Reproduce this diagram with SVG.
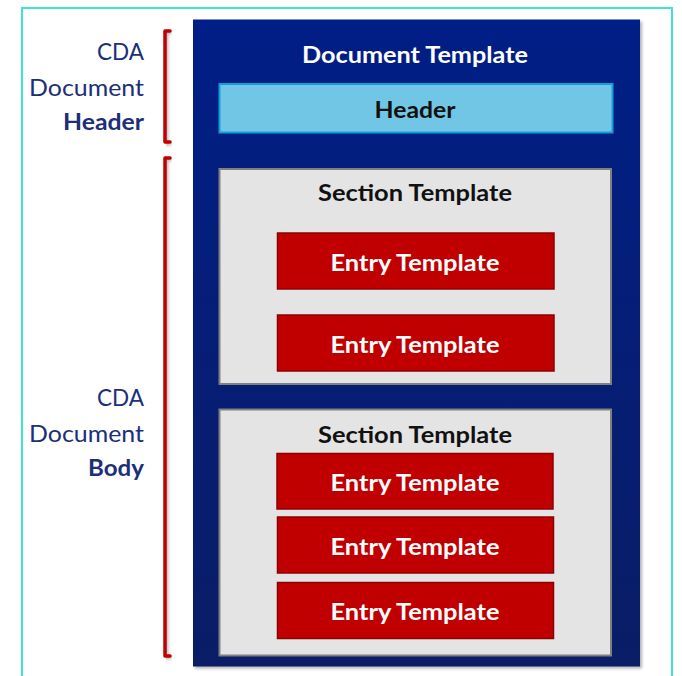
<svg xmlns="http://www.w3.org/2000/svg" width="682" height="676" viewBox="0 0 682 676">
  <defs>
    <linearGradient id="blueGrad" x1="0" y1="0" x2="0" y2="1">
      <stop offset="0" stop-color="#001E86"/>
      <stop offset="1" stop-color="#0A1D66"/>
    </linearGradient>
    <filter id="blur" x="-10%" y="-10%" width="120%" height="120%">
      <feGaussianBlur stdDeviation="1.5"/>
    </filter>
    <style>
      text { font-family: Lato, "Open Sans", "Liberation Sans", sans-serif; }
      .label { font-size: 23px; fill: #1B2F7A; text-anchor: end; }
      .label-b { font-weight: bold; }
      .title { font-size: 22px; font-weight: bold; fill: #FFFFFF; text-anchor: middle; }
      .dark { font-size: 22px; font-weight: bold; fill: #111111; text-anchor: middle; }
      .entry-rect { fill: #C00000; stroke: #8E0000; stroke-width: 1.5; }
      .entry-text { font-size: 22px; font-weight: bold; fill: #FFFFFF; text-anchor: middle; }
      .section-rect { fill: #E4E4E4; stroke: #808080; stroke-width: 2; }
      .bracket { fill: none; stroke: #C00000; stroke-width: 3.5; stroke-linejoin: round; stroke-linecap: round; }
      .bracket-shadow { fill: none; stroke: #000000; stroke-opacity: 0.3; stroke-width: 3.5; }
    </style>
  </defs>

  <rect x="0" y="0" width="682" height="676" fill="#FFFFFF"/>
  <rect id="frame" x="22" y="8" width="650" height="690" fill="none" stroke="#3EE4D3" stroke-width="2"/>

  <g id="labels">
    <text class="label" x="144" y="60" textLength="47" lengthAdjust="spacingAndGlyphs">CDA</text>
    <text class="label" x="144" y="96" textLength="115" lengthAdjust="spacingAndGlyphs">Document</text>
    <text class="label label-b" x="144" y="130" textLength="81" lengthAdjust="spacingAndGlyphs">Header</text>
    <text class="label" x="144" y="406" textLength="47" lengthAdjust="spacingAndGlyphs">CDA</text>
    <text class="label" x="144" y="442" textLength="115" lengthAdjust="spacingAndGlyphs">Document</text>
    <text class="label label-b" x="144" y="476" textLength="56" lengthAdjust="spacingAndGlyphs">Body</text>
  </g>

  <g id="brackets">
    <path class="bracket-shadow" d="M171.5,32.5 L166.5,32.5 L166.5,143.5 L171.5,143.5" filter="url(#blur)"/>
    <path class="bracket-shadow" d="M171.5,159.5 L166.5,159.5 L166.5,657.5 L171.5,657.5" filter="url(#blur)"/>
    <path class="bracket" d="M170,31 L165,31 L165,142 L170,142"/>
    <path class="bracket" d="M170,158 L165,158 L165,656 L170,656"/>
  </g>

  <g id="document-template">
    <rect x="195" y="21.5" width="447" height="647" fill="#000000" fill-opacity="0.3" filter="url(#blur)"/>
    <rect x="193" y="19.5" width="447" height="647" fill="url(#blueGrad)"/>
    <text class="title" x="415" y="63" textLength="226" lengthAdjust="spacingAndGlyphs">Document Template</text>
  </g>

  <g id="header">
    <rect x="219.5" y="84" width="393" height="48.5" fill="#71C6E6" stroke="#119FDB" stroke-width="2"/>
    <text class="dark" x="415" y="118" textLength="81" lengthAdjust="spacingAndGlyphs">Header</text>
  </g>

  <g id="section-1">
    <rect class="section-rect" x="219.5" y="169" width="391.5" height="215"/>
    <text class="dark" x="415" y="201" textLength="194" lengthAdjust="spacingAndGlyphs">Section Template</text>
  </g>
  <g id="entry-1-1">
    <rect class="entry-rect" x="277.5" y="233" width="276.5" height="56"/>
    <text class="entry-text" x="415" y="271" textLength="169" lengthAdjust="spacingAndGlyphs">Entry Template</text>
  </g>
  <g id="entry-1-2">
    <rect class="entry-rect" x="277.5" y="315" width="276.5" height="56"/>
    <text class="entry-text" x="415" y="353" textLength="169" lengthAdjust="spacingAndGlyphs">Entry Template</text>
  </g>

  <g id="section-2">
    <rect class="section-rect" x="219.5" y="409.5" width="391.5" height="246"/>
    <text class="dark" x="415" y="443" textLength="194" lengthAdjust="spacingAndGlyphs">Section Template</text>
  </g>
  <g id="entry-2-1">
    <rect class="entry-rect" x="277" y="453.5" width="276" height="55.5"/>
    <text class="entry-text" x="415" y="491" textLength="169" lengthAdjust="spacingAndGlyphs">Entry Template</text>
  </g>
  <g id="entry-2-2">
    <rect class="entry-rect" x="277.5" y="517" width="276" height="56"/>
    <text class="entry-text" x="415" y="554.5" textLength="169" lengthAdjust="spacingAndGlyphs">Entry Template</text>
  </g>
  <g id="entry-2-3">
    <rect class="entry-rect" x="277.5" y="582.5" width="276" height="56"/>
    <text class="entry-text" x="415" y="619.5" textLength="169" lengthAdjust="spacingAndGlyphs">Entry Template</text>
  </g>

  <g id="connectors"></g>
</svg>
